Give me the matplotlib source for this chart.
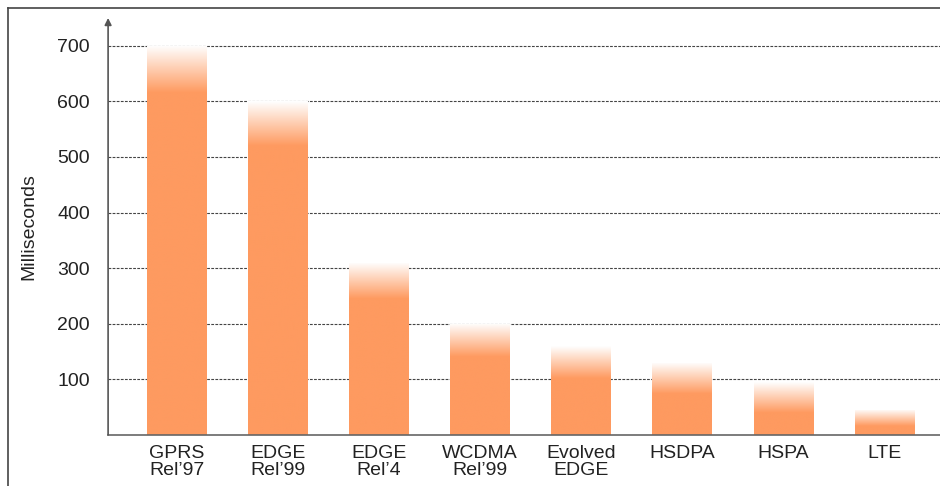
import numpy as np
import matplotlib.pyplot as plt
from matplotlib.colors import LinearSegmentedColormap
from matplotlib.lines import Line2D

plt.rcParams['font.family'] = ['Liberation Sans', 'DejaVu Sans']

# latence par technologie (ms)
technos = ["GPRS\nRel’97", "EDGE\nRel’99", "EDGE\nRel’4", "WCDMA\nRel’99",
           "Evolved\nEDGE", "HSDPA", "HSPA", "LTE"]
latence = [700, 600, 310, 200, 160, 130, 95, 45]
graduations = [100, 200, 300, 400, 500, 600, 700]

orange = '#fe9a60'

fig = plt.figure(figsize=(9.4, 4.86), dpi=100)
ax = fig.add_axes([0.115, 0.105, 0.885, 0.858])

x = np.arange(len(technos))
largeur = 0.59
barres = ax.bar(x, latence, width=largeur, color='none', edgecolor='none', zorder=2)

# dégradé vers le blanc en haut de chaque barre
cmap = LinearSegmentedColormap.from_list('fondu', ['#ffffff', orange])
for b, v in zip(barres, latence):
    fondu = min(0.65 * v, 50 + 0.05 * v)
    y = np.linspace(0, v, 500)
    t = np.clip((v - y) / fondu, 0, 1)
    img = ax.imshow(t[:, None], cmap=cmap, vmin=0, vmax=1, origin='lower', aspect='auto',
                    extent=(b.get_x(), b.get_x() + largeur, 0, v), zorder=2,
                    interpolation='bilinear')
    img.set_clip_path(b)

ax.set_xlim(-0.68, 7.55)
ax.set_ylim(0, 750)
ax.set_yticks(graduations)
ax.set_xticks(x)
ax.set_xticklabels(technos, fontsize=14, color='#222222', linespacing=1.0)
ax.tick_params(axis='both', length=0, labelsize=14, colors='#222222')
ax.tick_params(axis='y', pad=13)
ax.tick_params(axis='x', pad=7)
ax.yaxis.grid(True, linestyle=(0, (2.5, 1.2)), color='#444444', linewidth=0.8, zorder=1)
ax.set_axisbelow(True)
ax.set_ylabel('Milliseconds', fontsize=14, color='#222222', labelpad=14)

for s in ['top', 'right', 'left']:
    ax.spines[s].set_visible(False)
ax.spines['bottom'].set_color('#666666')
ax.spines['bottom'].set_linewidth(1.2)

# axe vertical avec flèche
ax.annotate('', xy=(0, 1.0), xytext=(0, 0), xycoords='axes fraction',
            arrowprops=dict(arrowstyle='-|>', color='#555555', lw=1.2,
                            mutation_scale=10, shrinkA=0, shrinkB=0))

# cadre autour du graphique
fig.add_artist(Line2D([8 / 940, 1], [1 - 8 / 486, 1 - 8 / 486], color='#444444', lw=1.2))
fig.add_artist(Line2D([8 / 940, 8 / 940], [0, 1 - 8 / 486], color='#444444', lw=1.2))

fig.savefig('out.png', dpi=100)
